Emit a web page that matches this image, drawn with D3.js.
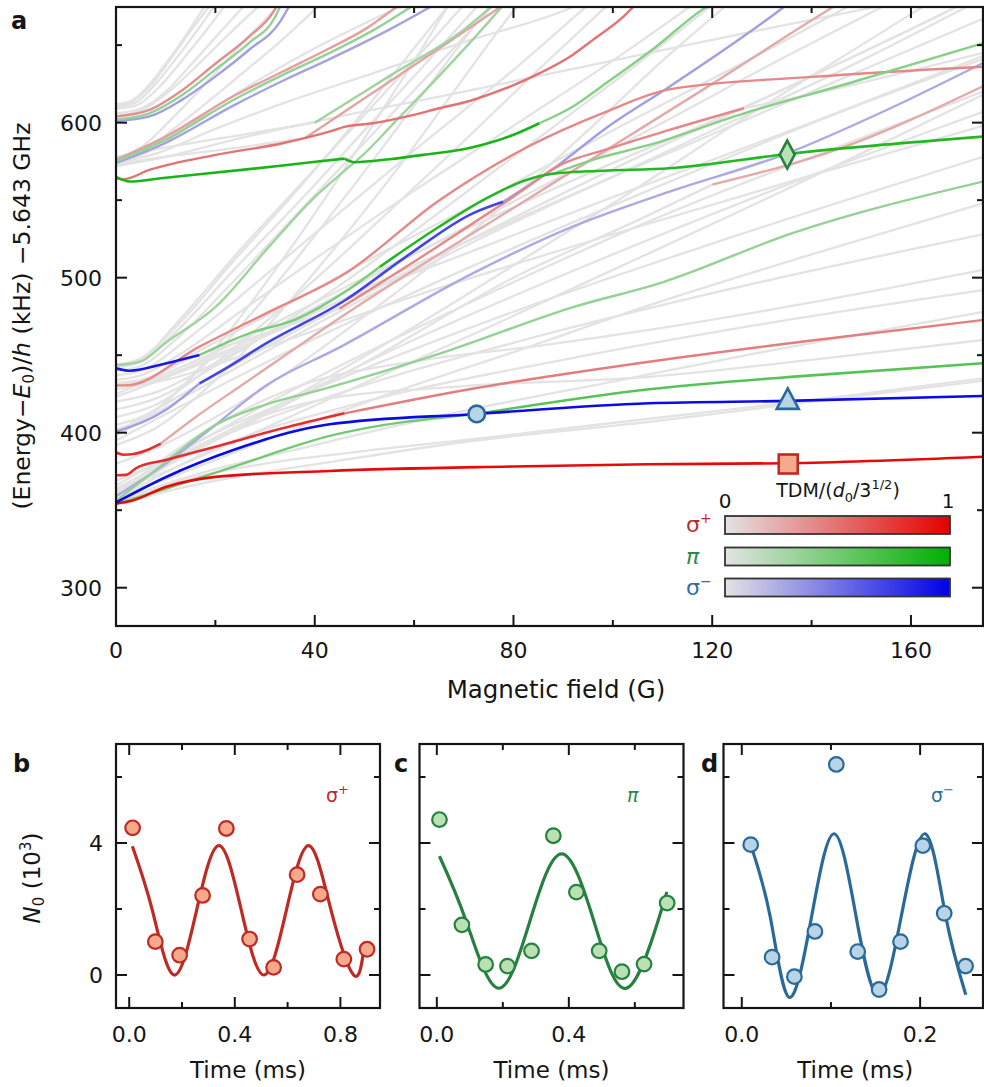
<!DOCTYPE html>
<html>
<head>
<meta charset="utf-8">
<script src="https://cdn.jsdelivr.net/npm/d3@7"></script>
<style>
  body { margin: 0; background: #fff; }
  svg { display: block; }
  text { font-family: "DejaVu Sans", "Liberation Sans", Arial, sans-serif; fill: #151515; }
</style>
</head>
<body>
<svg id="fig" width="984" height="1087"></svg>
<script>
// ---------- Panel a: Zeeman levels vs magnetic field ----------
const fieldTicks = [0, 40, 80, 120, 160];
const fieldMinorTicks = [20, 60, 100, 140];
const energyTicks = [300, 400, 500, 600];
const energyMinorTicks = [350, 450, 550, 650];

// levels with negligible transition dipole moment: [field (G), energy (kHz)]
const grayLevels = [
  [[0,353],[10,362],[25,372],[41,380],[70,394],[107.3,407],[140,420],[174.5,433.5]],
  [[0,354],[12,368],[30,380],[46,386.7],[75,397],[107.3,409],[140,421],[174.5,435]],
  [[0,357],[10,378],[25,405],[41,421],[70,430],[107.3,436],[140,447],[174.5,459.8]],
  [[0,360],[15,395],[35,428],[61,446.5],[85,456],[107.3,466.3],[140,484],[174.5,505]],
  [[0,356],[15,372],[40,392],[70,414],[100,433],[130,452],[174.5,478]],
  [[0,357],[20,390],[50,420],[90,447],[130,470],[174.5,492]],
  [[0,358],[10,370],[30,395],[55,425],[80,452],[110,485],[140,515],[174.5,548]],
  [[0,359],[15,388],[40,420],[80,458],[120,490],[174.5,528]],
  [[0,362],[10,375],[30,403],[50,432],[75,468],[100,505],[125,542],[150,580],[174.5,618]],
  [[0,363],[30,418],[70,482],[110,540],[150,590],[174.5,620]],
  [[0,364],[25,405],[60,460],[100,515],[140,566],[174.5,607]],
  [[0,366],[15,392],[40,428],[80,478],[120,522],[174.5,578]],
  [[0,362],[20,395],[50,445],[80,500],[107,540],[120,560]],
  [[0,369],[10,382],[25,405],[45,440],[65,478],[85,518],[105,558],[125,600],[150,650],[163,676]],
  [[0,380],[8,390],[20,410],[35,440],[50,475],[65,512],[80,552],[95,595],[110,640],[123,676]],
  [[0,392],[8,403],[18,428],[28,460],[38,496],[48,535],[58,576],[68,620],[80,672],[81,676]],
  [[0,395],[30,445],[70,505],[110,560],[150,612],[174.5,641]],
  [[0,398],[30,452],[70,520],[110,580],[150,640],[172,676]],
  [[0,400],[25,446],[60,506],[100,570],[140,630],[165,668],[170,676]],
  [[0,402],[6,410],[14,432],[22,462],[30,496],[38,532],[46,570],[54,610],[62,650],[67,676]],
  [[0,405],[8,415],[16,438],[24,465],[32,495],[40,527],[48,560],[56,594],[64,628],[74,670],[75.5,676]],
  [[0,410],[8,418],[18,440],[28,466],[38,493],[48,522],[58,552],[70,588],[82,625],[97,670],[99,676]],
  [[0,415],[8,422],[20,443],[30,463],[45,495],[60,530],[75,566],[90,602],[105,638],[120,676]],
  [[0,420],[8,426],[20,445],[35,472],[50,498],[70,532],[90,566],[110,600],[135,643],[155,676]],
  [[0,423],[25,455],[60,508],[100,565],[140,620],[174.5,667]],
  [[0,425],[20,452],[50,500],[90,560],[130,615],[170,676]],
  [[0,428],[10,434],[30,455],[60,488],[100,528],[140,566],[174.5,598]],
  [[0,430],[5,432],[20,450],[40,478],[70,515],[100,552],[140,600],[174.5,643]],
  [[0,431],[5,433],[15,450],[30,475],[50,510],[75,552],[100,595],[130,645],[148,676]],
  [[0,432],[5,434],[15,448],[30,464],[45,480]],
  [[0,434],[5,437],[15,455],[25,478],[40,512],[60,556],[80,598],[100,640],[116,676]],
  [[0,437],[5,440],[15,462],[25,488],[35,515],[45,542],[60,582],[80,634],[95,676]],
  [[0,440],[5,443],[12,460],[22,492],[32,526],[42,560],[55,604],[70,655],[76,676]],
  [[0,442],[5,446],[12,465],[24,506],[38,553],[50,595],[62,637],[73,676]],
  [[0,443],[5,447],[12,470],[25,518],[40,570],[50,605],[60,640],[70,676]],
  [[0,444],[5,448],[12,468],[24,512],[38,562],[48,600],[58,640],[67,676]],
  [[126.4,609.3],[145,622],[174.5,645]],
  [[0,572],[10,578],[25,590],[45,604],[70,620],[100,640],[130,660],[155,676]],
  [[0,573],[10,578],[25,584],[38,590]],
  [[0,578],[10,584],[25,592],[40,600]],
  [[0,574],[8,580],[20,596],[35,614],[50,630],[70,652],[90,672],[93,676]],
  [[0,576],[5,579],[12,592],[20,610],[30,630],[40,648],[50,664],[58,676]],
  [[0,575],[6,583],[14,602],[24,628],[34,655],[41,676]],
  [[0,577],[5,584],[12,605],[20,632],[28,660],[33,676]],
  [[0,605],[5,608],[11,621],[17,639],[23,658],[29,676]],
  [[0,606],[5,609],[10,620],[15,637],[20,655],[26,676]],
  [[0,609],[4,611],[9,624],[14,643],[19,663],[22,676]],
  [[0,610],[4,613],[8,625],[12,641],[16,658],[20,676]],
  [[0,611],[3,613],[7,624],[11,641],[15,659],[19,676]],
  [[0,612],[3,614],[6,622],[10,638],[14,656],[18,676]]
];

// sigma+ transitions: TDM (in units of d0/sqrt3) and level points
const sigmaPlusLevels = [
  { tdm: 0.95, pts: [[0,354.5],[3,356],[10,365],[20,371.5],[43,375.3],[80,378.2],[107,379.6],[135,380.3],[174.5,384.5]] },
  { tdm: 0.8,  pts: [[0,372.5],[2,372.8],[4,377],[10,382.4],[20,391],[33.5,402.8],[46,412.5]] },
  { tdm: 0.45, pts: [[46,412.5],[72,428.5],[107.3,445.8],[140,459.5],[174.5,472.7]] },
  { tdm: 0.8,  pts: [[0,387.2],[1.5,385.8],[3.5,386.2],[6,388.5],[9,393]] },
  { tdm: 0.25, pts: [[9,393],[16,410],[25,430],[35,452],[46,476],[60,505],[80,545],[100,585],[120,625],[140,666],[145,676]] },
  { tdm: 0.4,  pts: [[0,430.5],[2,430.5],[16.8,455.5],[30.2,477],[46.2,502.8],[65.1,550],[82.6,584],[98.6,607],[111.4,621.5],[140,629.5],[174.5,636.1]] },
  { tdm: 0.4,  pts: [[45,480],[58.4,507],[71.8,535],[82.6,558],[87.9,570],[100,584],[111.4,595.3],[126.4,609.3]] },
  { tdm: 0.5,  pts: [[0,564],[1.5,563.5],[6.7,569.5],[20.1,579.2],[33.5,586.7],[42.9,594.2],[46.2,597.4],[51.7,599.6],[58.4,603.9],[65.1,609.3],[71.8,614.6],[78.5,622.2],[85.2,631.8],[91.9,643.7],[96,653.4],[102,668],[104.5,676]] },
  { tdm: 0.38, pts: [[0,603.9],[6.7,608.2],[13.4,621.1],[20.1,638.3],[26.8,655.5],[31.5,670.6],[32.5,676]] },
  { tdm: 0.3,  pts: [[0,576],[10,591],[23.6,617],[33.6,633],[43,648],[50,660],[57,676]] },
  { tdm: 0.28, pts: [[38,590],[52,620],[66,650],[78,676]] },
  { tdm: 0.25, pts: [[120,560],[144.9,582.4],[174.5,623.5]] }
];

// pi transitions
const piLevels = [
  { tdm: 0.9,  pts: [[0,565],[2.7,562],[10,564.5],[26.8,570],[37.5,573.8],[46,576.8]] },
  { tdm: 0.9,  pts: [[46,576.8],[48,574.5],[55,576.4],[61.8,579.2],[71.8,584.1],[79.9,592],[85.2,599.6]] },
  { tdm: 0.4,  pts: [[85.2,599.6],[91.9,610.3],[98.6,625.4],[108.7,649],[117.9,672.7],[119.5,676]] },
  { tdm: 0.5,  pts: [[0,354],[10.2,364],[23.6,378],[43,397.9],[72.6,412.1]] },
  { tdm: 0.62, pts: [[72.6,412.1],[107.3,428],[140,437],[174.5,444.8]] },
  { tdm: 0.35, pts: [[0,356],[8,376],[20,405],[30,418],[41,427.5],[67,453],[92,481],[110,497],[136,528.6],[174.5,562]] },
  { tdm: 0.45, pts: [[16.8,450.1],[26.8,464.1],[36.2,473.1],[46.2,491],[53.1,507]] },
  { tdm: 0.85, pts: [[53.1,507],[65.1,533],[75.2,552.3],[82.6,563],[87.9,567],[98,569],[111.4,570.6],[135.1,579.8],[174.5,591]] },
  { tdm: 0.4,  pts: [[87.9,567],[95.9,576],[107.3,585.6],[126.4,606],[147.5,625.4],[174.5,651.2]] },
  { tdm: 0.3,  pts: [[0,443.5],[5,446],[10,458],[20.1,481.3],[30.8,520],[40,552],[46.2,569.5],[50,580],[56,600],[65,630],[75,665],[78,676]] },
  { tdm: 0.35, pts: [[0,602],[6.7,606],[13.4,618],[20.1,634.5],[26.8,651.5],[32,668],[33.2,676]] },
  { tdm: 0.35, pts: [[0,575],[10,589],[23.6,614.6],[33.6,630.8],[43,645],[52,660],[60,676]] },
  { tdm: 0.3,  pts: [[40,600],[55,630],[70,660],[76,676]] }
];

// sigma- transitions
const sigmaMinusLevels = [
  { tdm: 0.95, pts: [[0,355],[10.2,371.6],[23.6,388.8],[37,401.7],[43,405.4],[72.6,412.1],[107.3,419],[135.2,420.5],[174.5,423.7]] },
  { tdm: 0.3,  pts: [[0,400.7],[10,414.6],[16.8,431.8]] },
  { tdm: 0.7,  pts: [[16.8,431.8],[22.1,441.5],[30.2,457.6],[46.2,485.6],[58.4,513.6],[71.8,541.5],[77.9,549]] },
  { tdm: 0.3,  pts: [[77.9,549],[88.6,571.6],[98.6,596.4],[111.4,623.2],[134.1,673.8],[135,676]] },
  { tdm: 0.9,  pts: [[0,441.5],[2.7,440],[10,444.7],[16.8,450.1]] },
  { tdm: 0.25, pts: [[0,359],[10,380],[20,405],[30,430],[45,455],[71.8,502.8],[91.9,532.9],[111.4,555.5],[135.1,580.2],[155,608],[174.5,638.5]] },
  { tdm: 0.3,  pts: [[0,601],[6.7,604],[13.4,615],[20.1,630],[26.8,647],[33,665],[35,676]] },
  { tdm: 0.28, pts: [[0,574],[10,587],[23.6,611],[33.6,627],[43,641],[55,660],[64,676]] }
];

// selected transitions used in panels b-d
const markerField  = [72.6, 135.2, 135.3, 135.1];
const markerEnergy = [412.1, 420.5, 379.8, 579.4];
const markerShape  = ["circle", "triangle", "square", "diamond"];
const markerPol    = ["minus", "minus", "plus", "pi"];

// ---------- Panels b-d: Rabi oscillations ----------
const countTicks = [0, 4];
const countMinorTicks = [2, 6];

const timeB   = [0.013, 0.099, 0.191, 0.278, 0.368, 0.456, 0.547, 0.636, 0.724, 0.813, 0.901];
const countsB = [4.46, 1.01, 0.60, 2.41, 4.44, 1.09, 0.23, 3.04, 2.45, 0.48, 0.78];
const fitTimeB   = [0.012, 0.088, 0.170, 0.255, 0.340, 0.425, 0.510, 0.595, 0.680, 0.765, 0.850, 0.888];
const fitCountsB = [3.90, 1.95, 0.00, 1.95, 3.92, 1.95, 0.00, 1.95, 3.92, 1.95, 0.00, 0.72];

const timeC   = [0.008, 0.076, 0.148, 0.214, 0.287, 0.353, 0.423, 0.492, 0.561, 0.628, 0.698];
const countsC = [4.71, 1.52, 0.32, 0.27, 0.73, 4.22, 2.51, 0.73, 0.10, 0.33, 2.18];
const fitTimeC   = [0.008, 0.089, 0.186, 0.282, 0.378, 0.476, 0.574, 0.670, 0.697];
const fitCountsC = [3.60, 1.63, -0.40, 1.63, 3.67, 1.63, -0.40, 1.63, 2.52];

const timeD   = [0.010, 0.034, 0.059, 0.082, 0.106, 0.130, 0.154, 0.178, 0.203, 0.227, 0.251];
const countsD = [3.95, 0.54, -0.05, 1.32, 6.38, 0.71, -0.44, 1.01, 3.92, 1.87, 0.27];
const fitTimeD   = [0.010, 0.032, 0.0534, 0.0785, 0.1035, 0.128, 0.1532, 0.179, 0.2056, 0.2285, 0.2512];
const fitCountsD = [3.95, 1.75, -0.68, 1.80, 4.28, 1.80, -0.62, 1.80, 4.28, 1.80, -0.60];

// ---------- styling ----------
const baseGray = "#e3e3e3";
const polColor = { plus: "#e50000", pi: "#00b000", minus: "#0000e6" };
const polText  = { plus: "#c0282d", pi: "#2b8a47", minus: "#2f6ea0" };
const markFill = { plus: "#f6a98b", pi: "#b9e1b4", minus: "#b9d4e6" };
const markEdge = { plus: "#be2a24", pi: "#27803f", minus: "#2a6a98" };
const tdmColor = pol => d3.scaleLinear().domain([0, 1]).range([baseGray, polColor[pol]]).interpolate(d3.interpolateRgb);

const svg = d3.select("#fig");
const defs = svg.append("defs");

function drawFrame(g, xs, ys, xMaj, xMin, yMaj, yMin, majLen, minLen) {
  const [x0, x1] = xs.range();
  const [y0, y1] = ys.range();
  const tk = g.append("g").attr("stroke", "#151515").attr("stroke-width", 2);
  const addX = (v, len) => {
    tk.append("line").attr("x1", xs(v)).attr("x2", xs(v)).attr("y1", y0).attr("y2", y0 - len);
    tk.append("line").attr("x1", xs(v)).attr("x2", xs(v)).attr("y1", y1).attr("y2", y1 + len);
  };
  const addY = (v, len) => {
    tk.append("line").attr("y1", ys(v)).attr("y2", ys(v)).attr("x1", x0).attr("x2", x0 + len);
    tk.append("line").attr("y1", ys(v)).attr("y2", ys(v)).attr("x1", x1).attr("x2", x1 - len);
  };
  xMaj.forEach(v => addX(v, majLen)); xMin.forEach(v => addX(v, minLen));
  yMaj.forEach(v => addY(v, majLen)); yMin.forEach(v => addY(v, minLen));
  g.append("rect").attr("x", x0).attr("y", y1).attr("width", x1 - x0).attr("height", y0 - y1)
    .attr("fill", "none").attr("stroke", "#151515").attr("stroke-width", 2.2);
}

// ----- panel a -----
const xA = d3.scaleLinear().domain([0, 174.5]).range([116, 983]);
const yA = d3.scaleLinear().domain([275.3, 674.6]).range([626, 7]);
const gA = svg.append("g");
defs.append("clipPath").attr("id", "clipA").append("rect")
  .attr("x", 116).attr("y", 7).attr("width", 867).attr("height", 619);

const levelLine = d3.line().x(d => xA(d[0])).y(d => yA(d[1])).curve(d3.curveMonotoneX);
const plotA = gA.append("g").attr("clip-path", "url(#clipA)")
  .attr("fill", "none").attr("stroke-linecap", "butt").attr("stroke-linejoin", "round");

plotA.selectAll("path.gray").data(grayLevels).join("path").attr("class", "gray")
  .attr("d", levelLine).attr("stroke", baseGray).attr("stroke-width", 2.3);

const colored = [];
sigmaPlusLevels.forEach(l => colored.push({ pol: "plus", ...l }));
piLevels.forEach(l => colored.push({ pol: "pi", ...l }));
sigmaMinusLevels.forEach(l => colored.push({ pol: "minus", ...l }));
colored.sort((a, b) => a.tdm - b.tdm);
plotA.selectAll("path.tdm").data(colored).join("path").attr("class", "tdm")
  .attr("d", d => levelLine(d.pts))
  .attr("stroke", d => tdmColor(d.pol)(d.tdm))
  .attr("stroke-width", d => d.tdm > 0.6 ? 2.6 : 2.4);

drawFrame(gA, xA, yA, fieldTicks, fieldMinorTicks, energyTicks, energyMinorTicks, 11, 6);

gA.selectAll("text.xt").data(fieldTicks).join("text").attr("class", "xt")
  .attr("x", d => xA(d)).attr("y", 658).attr("text-anchor", "middle")
  .attr("font-size", 22).text(d => d);
gA.selectAll("text.yt").data(energyTicks).join("text").attr("class", "yt")
  .attr("x", 102).attr("y", d => yA(d) + 8).attr("text-anchor", "end")
  .attr("font-size", 22).text(d => d);

gA.append("text").attr("x", 556).attr("y", 698).attr("text-anchor", "middle")
  .attr("font-size", 24.5).text("Magnetic field (G)");

const yTitle = gA.append("text").attr("transform", "translate(30,316) rotate(-90)")
  .attr("text-anchor", "middle").attr("font-size", 23.5);
yTitle.append("tspan").text("(Energy\u2212");
yTitle.append("tspan").attr("font-style", "italic").text("E");
yTitle.append("tspan").attr("font-size", 15).attr("dy", 4).text("0");
yTitle.append("tspan").attr("dy", -4).text(")/");
yTitle.append("tspan").attr("font-style", "italic").text("h");
yTitle.append("tspan").text(" (kHz) \u22125.643 GHz");

svg.append("text").attr("x", 11).attr("y", 29).attr("font-size", 24).attr("font-weight", "bold").text("a");

// markers on the selected transitions
const mk = gA.append("g");
markerShape.forEach((s, i) => {
  const cx = xA(markerField[i]), cy = yA(markerEnergy[i]);
  const pol = markerPol[i];
  let el;
  if (s === "circle") {
    el = mk.append("circle").attr("cx", cx).attr("cy", cy).attr("r", 8.3);
  } else if (s === "triangle") {
    el = mk.append("path").attr("d", `M${cx},${cy - 12.5}L${cx + 11},${cy + 8}L${cx - 11},${cy + 8}Z`);
  } else if (s === "square") {
    el = mk.append("rect").attr("x", cx - 9.5).attr("y", cy - 9.5).attr("width", 19).attr("height", 19);
  } else {
    el = mk.append("path").attr("d", `M${cx},${cy - 14}L${cx + 7.5},${cy}L${cx},${cy + 14}L${cx - 7.5},${cy}Z`);
  }
  el.attr("fill", markFill[pol]).attr("stroke", markEdge[pol]).attr("stroke-width", 2.6)
    .attr("stroke-linejoin", "miter");
});

// TDM colour bars
const legendPols = ["plus", "pi", "minus"];
const legendLabels = ["\u03c3", "\u03c0", "\u03c3"];
const legendSup = ["+", "", "\u2212"];
const bx0 = 725, bx1 = 950, barH = 18, barTop = [516, 547.5, 578.5];
legendPols.forEach((p, i) => {
  const gr = defs.append("linearGradient").attr("id", "grad-" + p);
  gr.append("stop").attr("offset", "0%").attr("stop-color", baseGray);
  gr.append("stop").attr("offset", "100%").attr("stop-color", polColor[p]);
  gA.append("rect").attr("x", bx0).attr("y", barTop[i]).attr("width", bx1 - bx0).attr("height", barH)
    .attr("fill", `url(#grad-${p})`).attr("stroke", "#333").attr("stroke-width", 1.8);
  const t = gA.append("text").attr("x", 686).attr("y", barTop[i] + 16).attr("font-size", 22)
    .attr("fill", polText[p]);
  t.append("tspan").attr("fill", polText[p]).attr("font-style", p === "pi" ? "italic" : "normal").text(legendLabels[i]);
  if (legendSup[i]) t.append("tspan").attr("fill", polText[p]).attr("font-size", 14).attr("dy", -9).text(legendSup[i]);
});
gA.append("text").attr("x", bx0).attr("y", 508).attr("text-anchor", "middle").attr("font-size", 20).text("0");
gA.append("text").attr("x", bx1 - 2).attr("y", 508).attr("text-anchor", "middle").attr("font-size", 20).text("1");
const lt = gA.append("text").attr("x", 838).attr("y", 497).attr("text-anchor", "middle").attr("font-size", 19);
lt.append("tspan").text("TDM/(");
lt.append("tspan").attr("font-style", "italic").text("d");
lt.append("tspan").attr("font-size", 13).attr("dy", 5).text("0");
lt.append("tspan").attr("dy", -5).text("/3");
lt.append("tspan").attr("font-size", 13).attr("dy", -8).text("1/2");
lt.append("tspan").attr("dy", 8).text(")");

// ----- panels b, c, d -----
const yB = d3.scaleLinear().domain([-1, 7]).range([1008, 744]);
const panels = [
  { id: "b", pol: "plus", t: timeB, n: countsB, ft: fitTimeB, fn: fitCountsB,
    x: d3.scaleLinear().domain([-0.05, 0.95]).range([116, 380]),
    maj: [0, 0.4, 0.8], min: [0.2, 0.6], fmt: d3.format(".1f"), labelX: 13, tagX: 326, yLabels: true },
  { id: "c", pol: "pi", t: timeC, n: countsC, ft: fitTimeC, fn: fitCountsC,
    x: d3.scaleLinear().domain([-0.0525, 0.7475]).range([419.5, 683.5]),
    maj: [0, 0.4], min: [0.2, 0.6], fmt: d3.format(".1f"), labelX: 394, tagX: 627, yLabels: false },
  { id: "d", pol: "minus", t: timeD, n: countsD, ft: fitTimeD, fn: fitCountsD,
    x: d3.scaleLinear().domain([-0.0205, 0.2705]).range([723.5, 983]),
    maj: [0, 0.2], min: [0.1], fmt: d3.format(".1f"), labelX: 701, tagX: 931, yLabels: false }
];

panels.forEach(p => {
  const g = svg.append("g");
  const [x0, x1] = p.x.range();
  const clipId = "clip-" + p.id;
  defs.append("clipPath").attr("id", clipId).append("rect")
    .attr("x", x0).attr("y", 744).attr("width", x1 - x0).attr("height", 264);
  const fit = d3.line().x((d, i) => p.x(p.ft[i])).y((d, i) => yB(p.fn[i])).curve(d3.curveNatural);
  const inner = g.append("g").attr("clip-path", `url(#${clipId})`);
  inner.append("path").attr("d", fit(p.ft)).attr("fill", "none")
    .attr("stroke", markEdge[p.pol]).attr("stroke-width", 3.2);
  drawFrame(g, p.x, yB, p.maj, p.min, countTicks, countMinorTicks, 11, 6);
  g.selectAll("circle.pt").data(p.t).join("circle").attr("class", "pt")
    .attr("cx", d => p.x(d)).attr("cy", (d, i) => yB(p.n[i])).attr("r", 7.3)
    .attr("fill", markFill[p.pol]).attr("stroke", markEdge[p.pol]).attr("stroke-width", 2.2);
  g.selectAll("text.xt").data(p.maj).join("text").attr("class", "xt")
    .attr("x", d => p.x(d)).attr("y", 1042).attr("text-anchor", "middle")
    .attr("font-size", 22).text(d => p.fmt(d));
  if (p.yLabels) {
    g.selectAll("text.yt").data(countTicks).join("text").attr("class", "yt")
      .attr("x", 103).attr("y", d => yB(d) + 8).attr("text-anchor", "end")
      .attr("font-size", 22).text(d => d);
  }
  g.append("text").attr("x", (x0 + Math.min(x1, 984)) / 2 + (p.id === "d" ? 2 : 0)).attr("y", 1078)
    .attr("text-anchor", "middle").attr("font-size", 23).text("Time (ms)");
  svg.append("text").attr("x", p.labelX).attr("y", 772).attr("font-size", 24)
    .attr("font-weight", "bold").text(p.id);
  const tag = g.append("text").attr("x", p.tagX).attr("y", 802).attr("font-size", 19).attr("fill", polText[p.pol]);
  if (p.pol === "pi") {
    tag.append("tspan").attr("fill", polText[p.pol]).attr("font-style", "italic").text("\u03c0");
  } else {
    tag.append("tspan").attr("fill", polText[p.pol]).text("\u03c3");
    tag.append("tspan").attr("fill", polText[p.pol]).attr("font-size", 13).attr("dy", -8)
      .text(p.pol === "plus" ? "+" : "\u2212");
  }
});

const nTitle = svg.append("text").attr("transform", "translate(40,878) rotate(-90)")
  .attr("text-anchor", "middle").attr("font-size", 23);
nTitle.append("tspan").attr("font-style", "italic").text("N");
nTitle.append("tspan").attr("font-size", 15).attr("dy", 4).text("0");
nTitle.append("tspan").attr("dy", -4).text(" (10");
nTitle.append("tspan").attr("font-size", 15).attr("dy", -9).text("3");
nTitle.append("tspan").attr("dy", 9).text(")");
</script>
</body>
</html>
